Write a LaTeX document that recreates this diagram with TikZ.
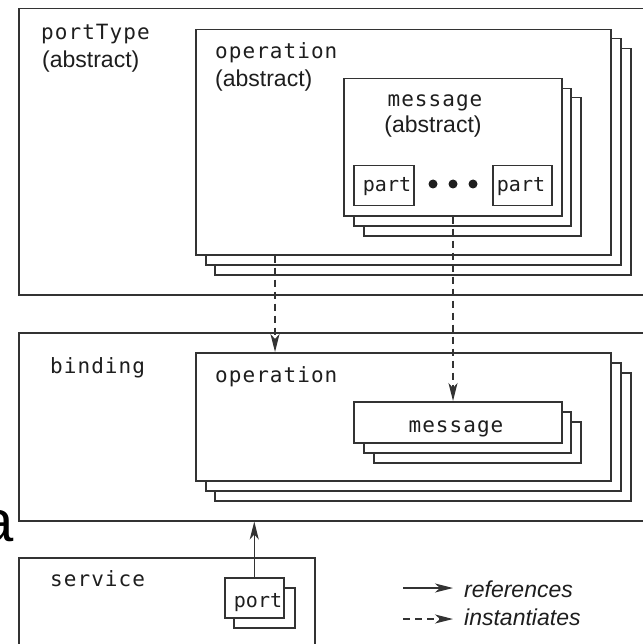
\documentclass[tikz,border=0pt]{standalone}
\usepackage{fontspec}
\setmainfont{Liberation Sans}
\newfontfamily\monof[LetterSpace=5]{DejaVu Sans Mono}
\newfontfamily\monop{DejaVu Sans Mono}
\usetikzlibrary{arrows.meta,calc}
\definecolor{ln}{HTML}{333333}
\definecolor{tx}{HTML}{1E1E1E}
\tikzset{
  box/.style={draw=ln, line width=1.5pt, fill=white, inner sep=0pt, anchor=north west},
  mlab/.style={inner sep=0pt, text=tx, font=\monof\fontsize{21}{23}\selectfont},
  plab/.style={inner sep=0pt, text=tx, font=\monop\fontsize{20}{22}\selectfont},
  slab/.style={inner sep=0pt, text=tx, font=\fontsize{23}{25}\selectfont},
  ilab/.style={inner sep=0pt, text=tx, font=\itshape\fontsize{23}{25}\selectfont},
  tip/.style={-{Stealth[length=18pt,width=9pt,inset=5pt]}},
  refarr/.style={draw=ln, line width=1.4pt, tip},
  instarr/.style={draw=ln, line width=1.4pt, tip, dash pattern=on 7pt off 5pt},
}
\newcommand{\bx}[5]{\node[box, minimum width=#4pt, minimum height=#5pt] (#1) at (#2,#3) {};}
\begin{document}
\begin{tikzpicture}[x=1pt,y=-1pt]
\useasboundingbox (0,0) rectangle (642,644);
\fill[white] (0,0) rectangle (642,644);

% portType
\bx{portType}{18}{8}{650}{286}
\bx{pOpC}{214}{48}{416}{226}
\bx{pOpB}{205}{38}{415}{226}
\bx{pOpA}{195}{29}{415}{225}
\bx{pMsgC}{363}{97}{217}{138}
\bx{pMsgB}{353}{88}{217}{137}
\bx{pMsgA}{343}{78}{218}{137}
\bx{partA}{353}{165}{60}{40}
\bx{partB}{492}{165}{59}{40}
\fill[tx] (433,184) circle (4.5pt) (453,184) circle (4.5pt) (473,184) circle (4.5pt);

\node[mlab, anchor=base west] (tPT) at (41,40) {portType};
\node[slab, anchor=base west] (tPTa) at (42,68) {(abstract)};
\node[mlab, anchor=base west] (tOp) at (215,59) {operation};
\node[slab, anchor=base west] (tOpa) at (215,87) {(abstract)};
\node[mlab, anchor=base] (tMsg) at (435,107) {message};
\node[slab, anchor=base] (tMsga) at (433,133) {(abstract)};
\node[plab, anchor=base] (tPart1) at (387,192) {part};
\node[plab, anchor=base] (tPart2) at (521,192) {part};

% binding
\bx{binding}{18}{332}{650}{188}
\bx{bOpC}{214}{372}{416}{128}
\bx{bOpB}{205}{362}{415}{128}
\bx{bOpA}{195}{352}{415}{128}
\bx{bMsgC}{373}{421}{207}{41}
\bx{bMsgB}{363}{411}{207}{41}
\bx{bMsgA}{353}{401}{208}{41}
\node[mlab, anchor=base west] (tB) at (50,373) {binding};
\node[mlab, anchor=base west] (tBOp) at (215,382) {operation};
\node[mlab, anchor=base] (tBMsg) at (456,432) {message};

% service
\bx{service}{18}{557}{296}{100}
\bx{portB}{233}{587}{61}{40}
\bx{portA}{224}{577}{59}{40}
\node[mlab, anchor=base west] (tS) at (50,586) {service};
\node[plab, anchor=base] (tPort) at (258,607) {port};

% connectors
\draw[instarr] ([xshift=80pt]pOpA.south west) -- ([xshift=80pt]bOpA.north west);
\draw[instarr] ([xshift=110pt]pMsgA.south west) -- ([xshift=100pt]bMsgA.north west);
\draw[refarr] (portA.north) -- (portA.north |- binding.south);

% legend
\coordinate (l1a) at (403,588);
\coordinate (l1b) at (453,588);
\coordinate (l2a) at (403,619);
\coordinate (l2b) at (453,619);
\draw[refarr] (l1a) -- (l1b);
\draw[instarr] (l2a) -- (l2b);
\node[ilab, anchor=base west] (tRef) at (464,597) {references};
\node[ilab, anchor=base west] (tInst) at (464,625) {instantiates};

% stray glyph at left edge
\node[inner sep=0pt, anchor=base east, font=\fontsize{58}{60}\selectfont] (stray) at (14,541) {a};
\end{tikzpicture}
\end{document}
